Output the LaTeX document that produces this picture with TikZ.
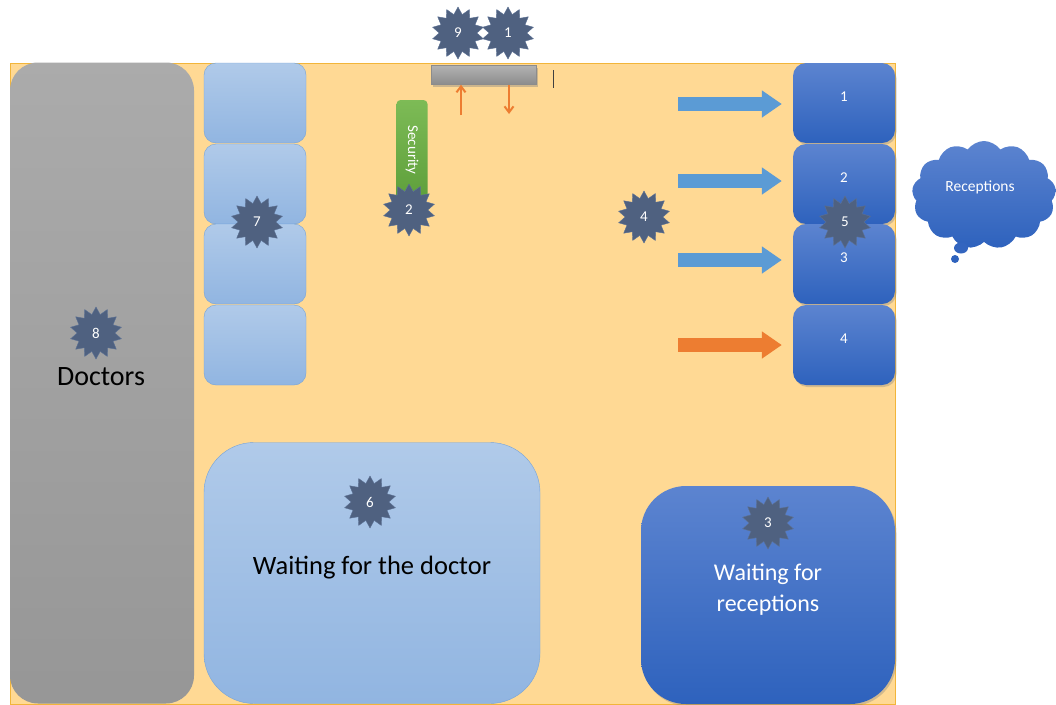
\documentclass[tikz,border=0pt]{standalone}
\usepackage{fontspec}
\setmainfont{Carlito}
\usetikzlibrary{shapes.geometric,shapes.symbols,arrows.meta,shadows}
\definecolor{floorfill}{HTML}{FFD994}
\definecolor{floorline}{HTML}{F2B53A}
\definecolor{badgefill}{HTML}{4F6180}
\definecolor{badgeline}{HTML}{5C7194}
\definecolor{darktop}{HTML}{5C84D0}
\definecolor{darkbot}{HTML}{2E62BD}
\definecolor{lighttop}{HTML}{B0CAE9}
\definecolor{lightbot}{HTML}{91B5E1}
\definecolor{lightline}{HTML}{74A3DA}
\definecolor{arrowblue}{HTML}{5B9BD5}
\definecolor{arroworange}{HTML}{ED7D31}
\definecolor{guardleft}{HTML}{5E9F3B}
\definecolor{guardright}{HTML}{7DBB56}
\tikzset{
  badge/.style={star, star points=14, star point ratio=1.38, minimum size=52pt, inner sep=0pt,
    fill=badgefill, draw=badgeline, text=white, font=\fontsize{15}{15}\selectfont},
  seat/.style={draw=lightline, rounded corners=12pt, top color=lighttop, bottom color=lightbot,
    minimum width=102pt, minimum height=80pt, inner sep=0pt},
  desk/.style={rounded corners=13pt, top color=darktop, bottom color=darkbot,
    minimum width=102pt, minimum height=80pt, inner sep=0pt,
    drop shadow={opacity=0.35, shadow xshift=1.5pt, shadow yshift=-2pt}},
  desklabel/.style={label={[text=white, yshift=6pt, font=\fontsize{15}{15}\selectfont]center:#1}},
  flow/.style={line width=14pt, -{Triangle[length=20pt, width=26pt]}, shorten >=11pt},
  pass/.style={draw=arroworange, line width=2pt, -{Straight Barb[length=6pt, width=9pt]}}
}
\begin{document}
\begin{tikzpicture}[x=1pt, y=-1pt]
\useasboundingbox (0,0) rectangle (1056,704);

\path[fill=floorfill, draw=floorline] (10,63) rectangle (895,704);

\node[rounded corners=28pt, top color=black!33, bottom color=black!41, minimum width=184pt, minimum height=641pt, inner sep=0pt] (doctors) at (102,383) {};
\node[font=\fontsize{28}{28}\selectfont] (doctorstext) at (101,377) {Doctors};

\node[seat] (seat1) at (255,103) {};
\node[seat] (seat2) at (255,184) {};
\node[seat] (seat3) at (255,264) {};
\node[seat] (seat4) at (255,345) {};

\node[rounded corners=50pt, draw=lightline, top color=lighttop, bottom color=lightbot, minimum width=336pt, minimum height=261pt, inner sep=0pt] (waitdoctor) at (372,573) {};
\node[font=\fontsize{26.5}{26.5}\selectfont] (waitdoctortext) at (372,568) {Waiting for the doctor};

\node[rounded corners=45pt, top color=darktop, bottom color=darkbot, minimum width=254pt, minimum height=218pt, inner sep=0pt, drop shadow={opacity=0.35, shadow xshift=1.5pt, shadow yshift=-2pt}] (waitdesk) at (768,595) {};
\node[text=white, align=center, font=\fontsize{24}{31}\selectfont] (waitdesktext) at (768,590) {Waiting for\\receptions};

\node[desk, desklabel=1] (desk1) at (844,103) {};
\node[desk, desklabel=2] (desk2) at (844,184) {};
\node[desk, desklabel=3] (desk3) at (844,264) {};
\node[desk, desklabel=4] (desk4) at (844,345) {};

\coordinate (in1) at (678,104);
\coordinate (in2) at (678,181);
\coordinate (in3) at (678,260);
\coordinate (in4) at (678,345);
\path[draw=arrowblue, flow] (in1) -- (desk1.west |- in1);
\path[draw=arrowblue, flow] (in2) -- (desk2.west |- in2);
\path[draw=arrowblue, flow] (in3) -- (desk3.west |- in3);
\path[draw=arroworange, flow] (in4) -- (desk4.west |- in4);

\node[rotate=-90, rounded corners=4pt, top color=guardright, bottom color=guardleft, minimum width=100pt, minimum height=31pt, inner sep=0pt, text=white, font=\fontsize{15}{15}\selectfont] (security) at (412,150) {Security};

\node[top color=black!30, bottom color=black!45, draw=black!45, minimum width=105pt, minimum height=19pt, inner sep=0pt, drop shadow={opacity=0.4, shadow xshift=1.5pt, shadow yshift=-2pt}] (gate) at (484,75) {};
\coordinate (enter) at (461,115);
\coordinate (leave) at (509,114);
\path[pass] (enter) -- (gate.south -| enter);
\path[pass] (gate.south -| leave) -- (leave);
\coordinate (cursortop) at (553,70);
\coordinate (cursorbot) at (553,88);
\path[draw=black!75, line width=1pt] (cursortop) -- (cursorbot);

\node[cloud, cloud puffs=13, cloud puff arc=110, aspect=1.3, minimum width=144pt, minimum height=108pt, inner sep=0pt, top color=darktop, bottom color=darkbot] (cloud) at (984,195) {};
\node[text=white, font=\fontsize{15.5}{15.5}\selectfont] (cloudtext) at (980,187) {Receptions};
\node[ellipse, minimum width=14pt, minimum height=11pt, inner sep=0pt, fill=darkbot!90!darktop] (puff1) at (961,248) {};
\node[circle, minimum size=8pt, inner sep=0pt, fill=darkbot] (puff2) at (955,259) {};

\node[badge] (b9) at (458,33) {9};
\node[badge] (b1) at (508,33) {1};
\node[badge] (b2) at (409,210) {2};
\node[badge] (b3) at (768,523) {3};
\node[badge] (b4) at (644,217) {4};
\node[badge] (b5) at (845,222) {5};
\node[badge] (b6) at (370,502) {6};
\node[badge] (b7) at (257,222) {7};
\node[badge] (b8) at (96,333) {8};
\end{tikzpicture}
\end{document}
